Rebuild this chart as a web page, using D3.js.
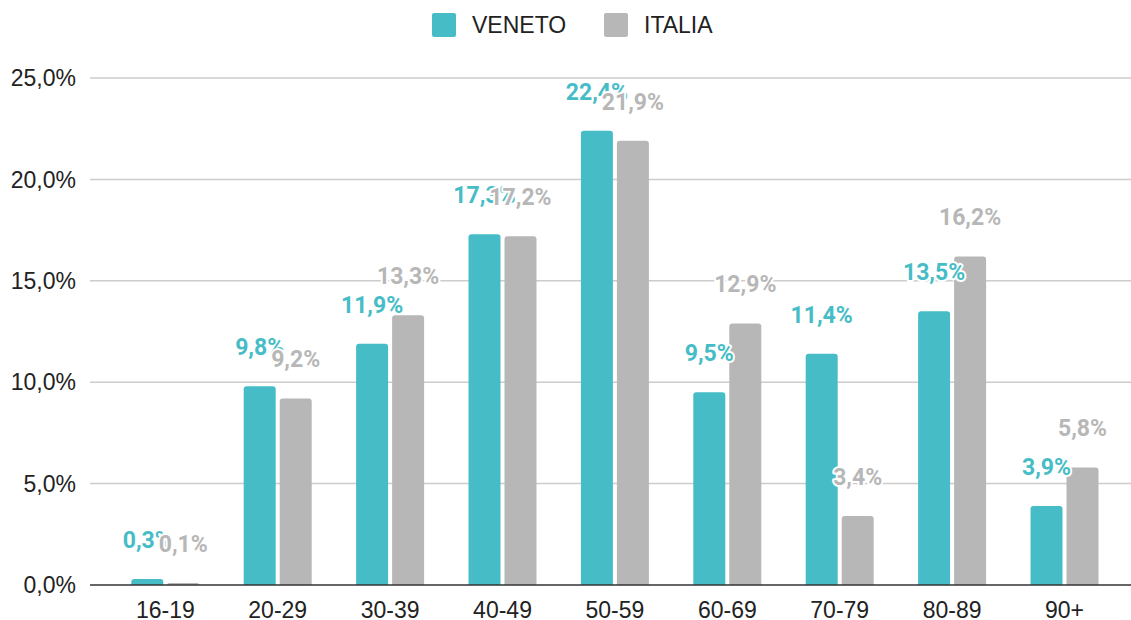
<!DOCTYPE html>
<meta charset="utf-8">
<head>
<style>
body{
	margin:0;
	background:#fff;
}
text{
	font-family:"Liberation Sans", Arial, sans-serif;
	font-size:23px;
	fill:#222;
}
.grid line{
	stroke:#cccccc;
	stroke-width:1.5px;
}
.baseline{
	stroke:#333;
	stroke-width:1.5px;
}
.lbl{
	font-family:Roboto, sans-serif;
	font-weight:bold;
	font-size:23px;
	text-anchor:middle;
	paint-order:stroke;
	stroke:#fff;
	stroke-width:4px;
	stroke-linejoin:round;
}
</style>
</head>
<body>
<script src="https://cdn.jsdelivr.net/npm/d3@7"></script>
<script>

var categories=['16-19','20-29','30-39','40-49','50-59','60-69','70-79','80-89','90+'];
var series=['VENETO','ITALIA'];
var veneto=[0.3,9.8,11.9,17.3,22.4,9.5,11.4,13.5,3.9];
var italia=[0.1,9.2,13.3,17.2,21.9,12.9,3.4,16.2,5.8];
var yTicks=[0,5,10,15,20,25];

var color={VENETO:"#46bdc6",ITALIA:"#b7b7b7"};
var values={VENETO:veneto,ITALIA:italia};

var it=d3.formatLocale({decimal:",",thousands:".",grouping:[3],currency:["","€"]});
var fmt=function(v){ return it.format(".1f")(v)+"%"; };

var svg=d3.select("body").append("svg").attr("width",1131).attr("height",620);

var y=d3.scaleLinear().domain([0,25]).range([585,78]);
var x0=d3.scaleBand().domain(categories).range([109.1,1120.7]).paddingInner(0.395).paddingOuter(0.1975);
var x1=d3.scaleBand().domain(series).range([0,x0.bandwidth()]).paddingInner(0.111);

// gridlines + y labels
var grid=svg.append("g").attr("class","grid");
grid.selectAll("line").data(yTicks.slice(1)).enter().append("line")
	.attr("x1",90).attr("x2",1131)
	.attr("y1",d=>y(d)).attr("y2",d=>y(d));

svg.append("g").selectAll("text").data(yTicks).enter().append("text")
	.attr("x",76).attr("y",d=>y(d)).attr("dy","0.36em")
	.style("text-anchor","end")
	.text(fmt);

// rounded-top bar
function barPath(x,yy,w,h,r){
	r=Math.min(r,h,w/2);
	return "M"+x+","+(yy+h)+"V"+(yy+r)+"Q"+x+","+yy+" "+(x+r)+","+yy+"H"+(x+w-r)+"Q"+(x+w)+","+yy+" "+(x+w)+","+(yy+r)+"V"+(yy+h)+"Z";
}

var rows=categories.map(function(c,i){
	return series.map(function(s){ return {cat:c,s:s,v:values[s][i]}; });
});
var flat=d3.merge(rows);

svg.append("g").selectAll("path").data(flat).enter().append("path")
	.attr("fill",d=>color[d.s])
	.attr("d",d=>barPath(x0(d.cat)+x1(d.s),y(d.v),x1.bandwidth(),y(0)-y(d.v),3));

svg.append("line").attr("class","baseline")
	.attr("x1",90).attr("x2",1131).attr("y1",y(0)).attr("y2",y(0));

// x labels
var xAxis=svg.append("g").attr("transform","translate(0,"+y(0)+")")
	.call(d3.axisBottom(x0).tickSize(0).tickPadding(0));
xAxis.select(".domain").remove();
xAxis.selectAll("text")
	.attr("y",33).attr("dy",0)
	.style("font-family","'Liberation Sans', Arial, sans-serif")
	.style("font-size","23px").style("fill","#222");

// data labels, VENETO first then ITALIA on top
series.forEach(function(s){
	svg.append("g").selectAll("text").data(flat.filter(d=>d.s==s)).enter().append("text")
		.attr("class","lbl")
		.attr("x",d=>x0(d.cat)+x1(d.s)+x1.bandwidth()/2)
		.attr("y",d=>y(d.v)-31)
		.style("fill",color[s])
		.text(d=>fmt(d.v));
});

// legend
var legX={VENETO:432,ITALIA:604};
var leg=svg.append("g").selectAll("g").data(series).enter().append("g")
	.attr("transform",d=>"translate("+legX[d]+",13)");
leg.append("rect").attr("width",24).attr("height",24).attr("rx",2)
	.attr("fill",d=>color[d]);
leg.append("text").attr("x",40).attr("y",12).attr("dy","0.36em").text(d=>d);

</script>
</body>
</html>
